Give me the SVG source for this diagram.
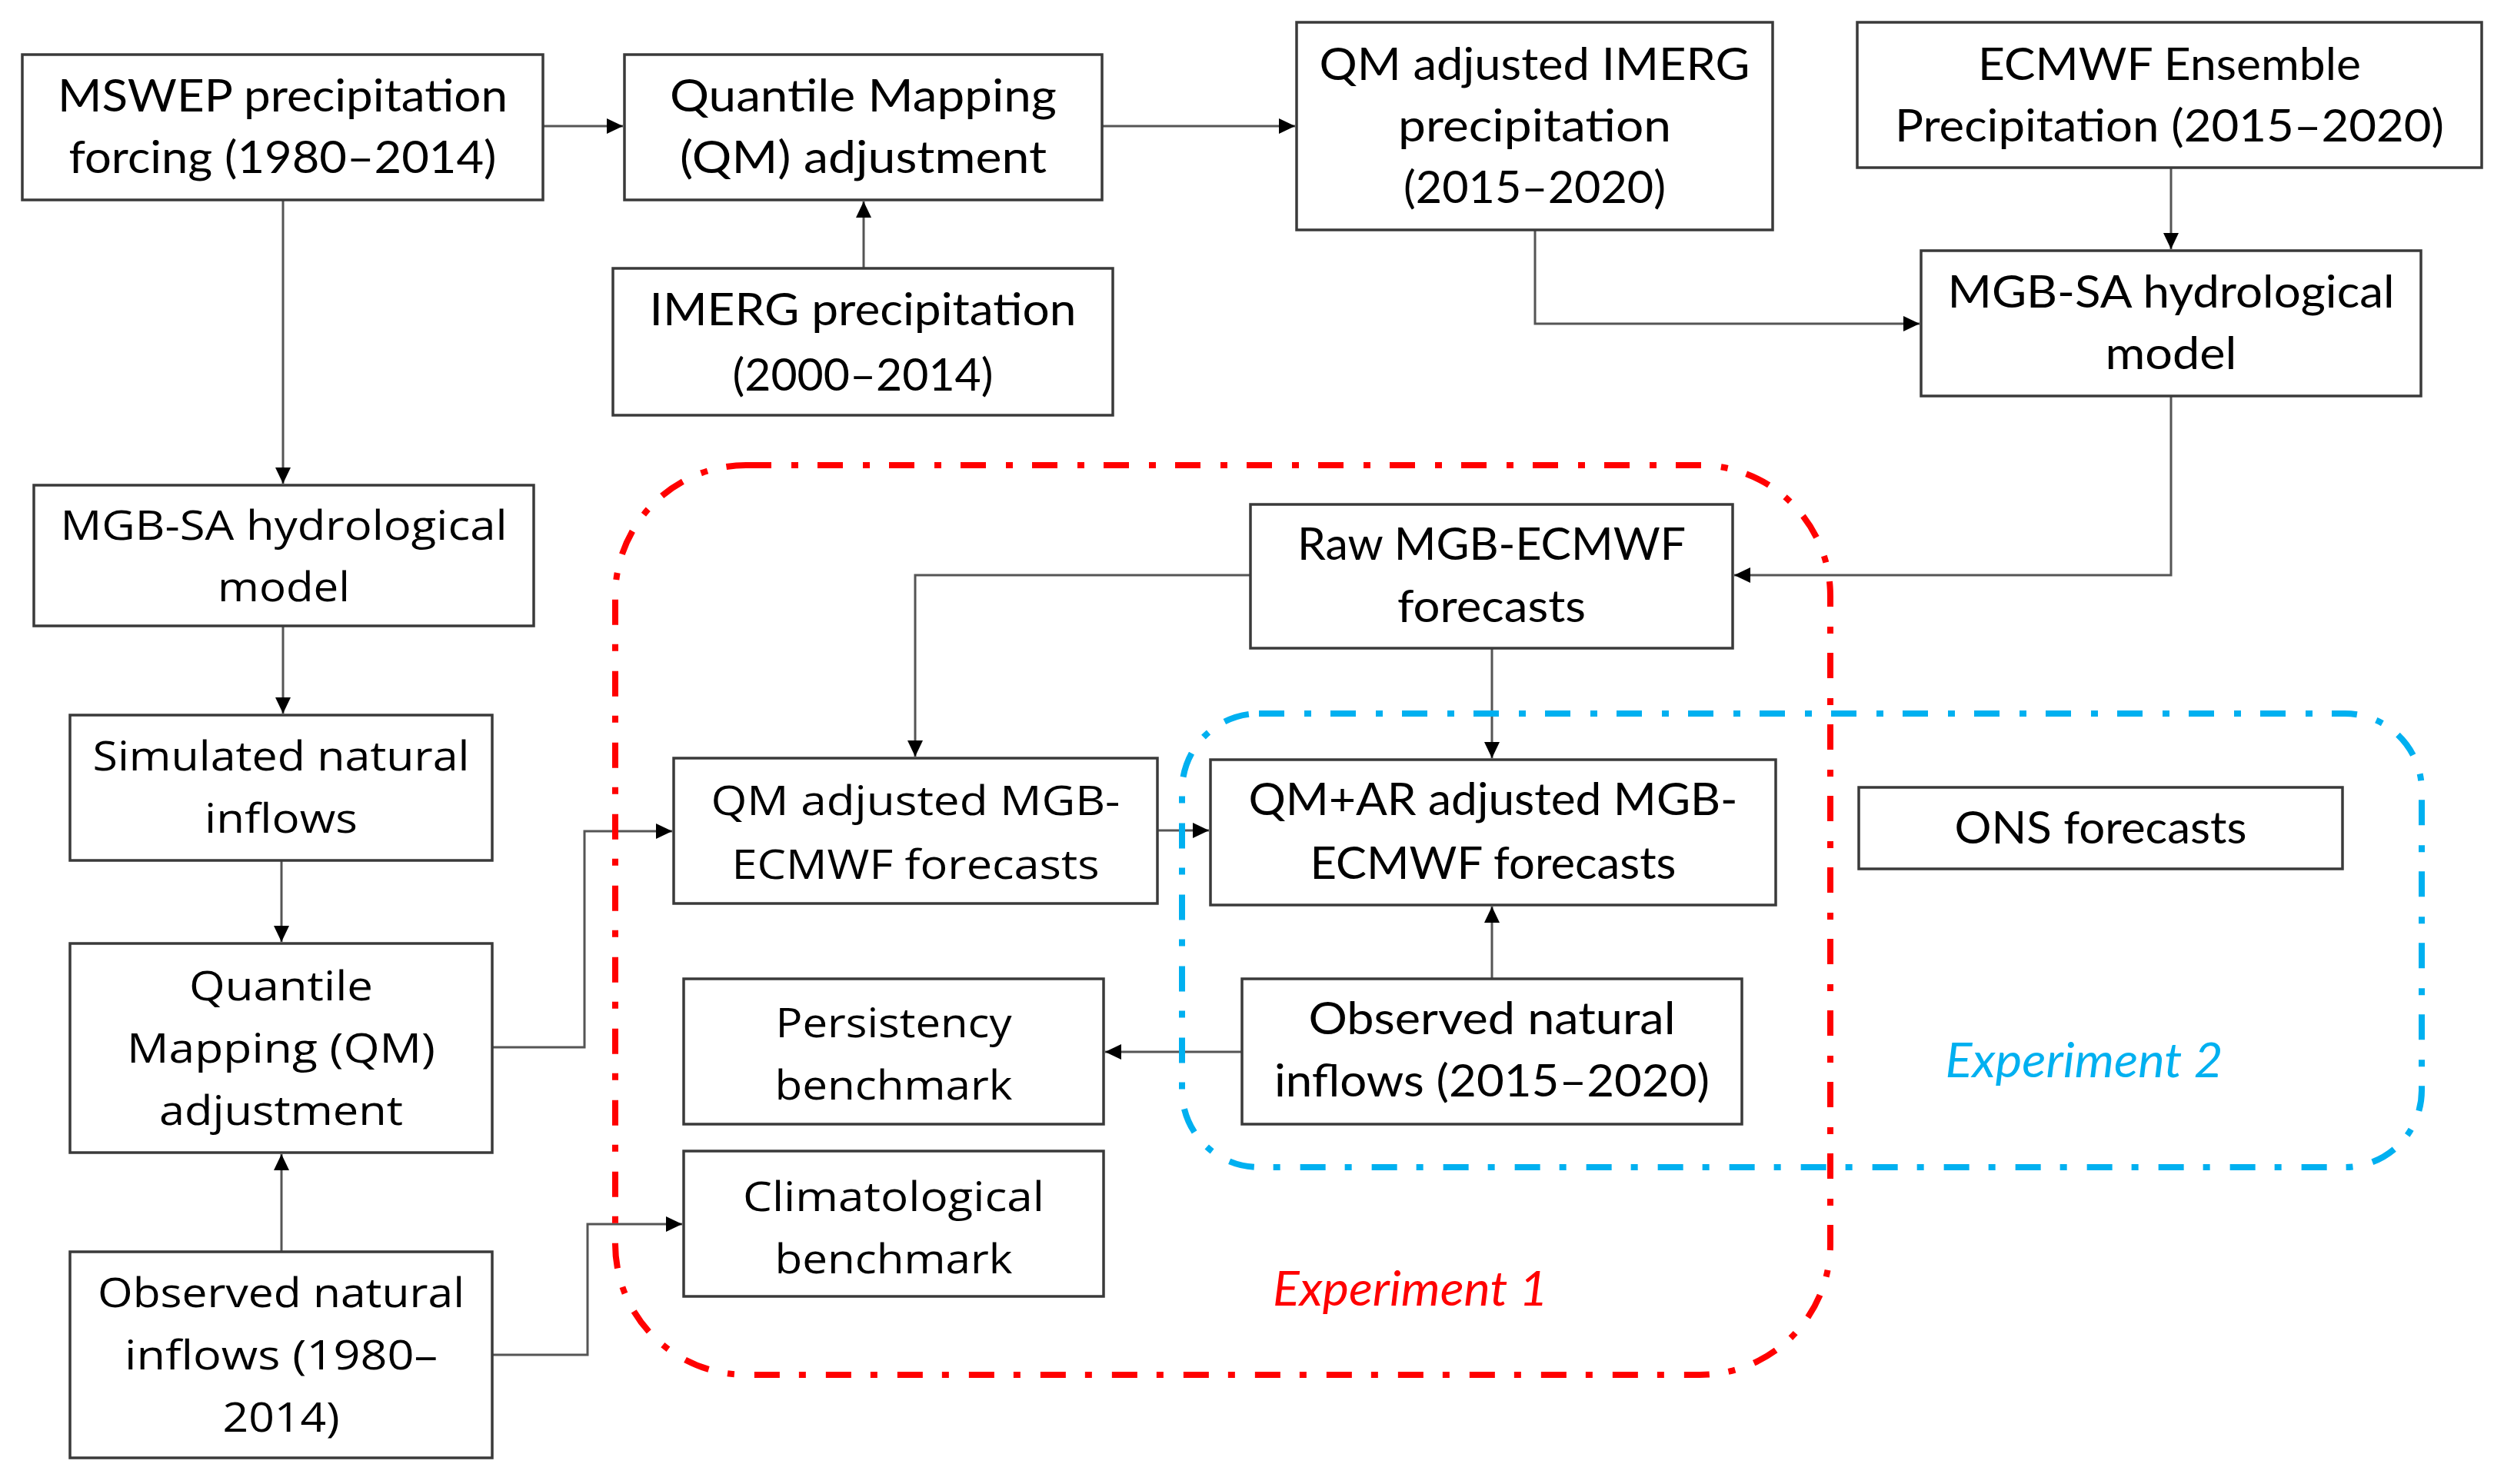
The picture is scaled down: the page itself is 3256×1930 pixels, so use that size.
<svg xmlns="http://www.w3.org/2000/svg" width="3256" height="1930" viewBox="0 0 3256 1930">
<defs>
<style>
.box{fill:#fff;stroke:#3a3a3a;stroke-width:3.5}
.n{font-family:Lato,"Liberation Sans",sans-serif;font-size:58px;fill:#000;text-anchor:middle}
.w{font-family:"Open Sans","Liberation Sans",sans-serif;font-size:53px;fill:#000;text-anchor:middle}
.con{fill:none;stroke:#555;stroke-width:3;marker-end:url(#ah)}
.exp1{fill:none;stroke:#ff0000;stroke-width:8;stroke-dasharray:33 26 9 25}
.exp2{fill:none;stroke:#00b0f0;stroke-width:8;stroke-dasharray:33 26 9 25}
.lab{font-family:Lato,"Liberation Sans",sans-serif;font-size:62px;font-style:italic;text-anchor:middle}
</style>
<marker id="ah" markerUnits="userSpaceOnUse" markerWidth="22" markerHeight="22" viewBox="0 0 22 22" refX="21" refY="11" orient="auto">
<path d="M0,1 L21,11 L0,21 Z" fill="#000"/>
</marker>
</defs>
<rect width="3256" height="1930" fill="#fff"/>

<g id="connectors">
<path class="con" d="M706,164 H810"/>
<path class="con" d="M1433,164 H1684"/>
<path class="con" d="M1123,349 V262"/>
<path class="con" d="M368,260 V629"/>
<path class="con" d="M1996,299 V421 H2496"/>
<path class="con" d="M2823,218 V324"/>
<path class="con" d="M2823,515 V748 H2255"/>
<path class="con" d="M1626,748 H1190 V984"/>
<path class="con" d="M1940,843 V986"/>
<path class="con" d="M1505,1080 H1572"/>
<path class="con" d="M368,814 V928"/>
<path class="con" d="M366,1119 V1225"/>
<path class="con" d="M640,1362 H760 V1081 H874"/>
<path class="con" d="M366,1628 V1501"/>
<path class="con" d="M640,1762 H764 V1592 H887"/>
<path class="con" d="M1940,1273 V1179"/>
<path class="con" d="M1615,1368 H1437"/>
</g>

<g id="mswep">
<rect class="box" x="29" y="71" width="677" height="189"/>
<text class="n" x="367.5" y="145" textLength="585" lengthAdjust="spacingAndGlyphs">MSWEP precipitation</text>
<text class="n" x="367.5" y="225" textLength="556" lengthAdjust="spacingAndGlyphs">forcing (1980–2014)</text>
</g>
<g id="qm-top">
<rect class="box" x="812" y="71" width="621" height="189"/>
<text class="n" x="1122.5" y="145" textLength="503" lengthAdjust="spacingAndGlyphs">Quantile Mapping</text>
<text class="n" x="1122.5" y="225" textLength="477" lengthAdjust="spacingAndGlyphs">(QM) adjustment</text>
</g>
<g id="qm-imerg">
<rect class="box" x="1686" y="29" width="619" height="270"/>
<text class="n" x="1995.5" y="104" textLength="560" lengthAdjust="spacingAndGlyphs">QM adjusted IMERG</text>
<text class="n" x="1995.5" y="184" textLength="355" lengthAdjust="spacingAndGlyphs">precipitation</text>
<text class="n" x="1995.5" y="264" textLength="341" lengthAdjust="spacingAndGlyphs">(2015–2020)</text>
</g>
<g id="ecmwf">
<rect class="box" x="2415" y="29" width="812" height="189"/>
<text class="n" x="2821" y="104" textLength="498" lengthAdjust="spacingAndGlyphs">ECMWF Ensemble</text>
<text class="n" x="2821" y="184" textLength="714" lengthAdjust="spacingAndGlyphs">Precipitation (2015–2020)</text>
</g>
<g id="imerg">
<rect class="box" x="797" y="349" width="650" height="191"/>
<text class="n" x="1122" y="423" textLength="555" lengthAdjust="spacingAndGlyphs">IMERG precipitation</text>
<text class="n" x="1122" y="508" textLength="339" lengthAdjust="spacingAndGlyphs">(2000–2014)</text>
</g>
<g id="mgb-right">
<rect class="box" x="2498" y="326" width="650" height="189"/>
<text class="n" x="2823" y="400" textLength="581" lengthAdjust="spacingAndGlyphs">MGB-SA hydrological</text>
<text class="n" x="2823" y="480" textLength="171" lengthAdjust="spacingAndGlyphs">model</text>
</g>
<g id="mgb-left">
<rect class="box" x="44" y="631" width="650" height="183"/>
<text class="w" x="369" y="702" textLength="581" lengthAdjust="spacingAndGlyphs">MGB-SA hydrological</text>
<text class="w" x="369" y="782" textLength="172" lengthAdjust="spacingAndGlyphs">model</text>
</g>
<g id="raw">
<rect class="box" x="1626" y="656" width="627" height="187"/>
<text class="n" x="1939.5" y="728" textLength="505" lengthAdjust="spacingAndGlyphs">Raw MGB-ECMWF</text>
<text class="n" x="1939.5" y="809" textLength="245" lengthAdjust="spacingAndGlyphs">forecasts</text>
</g>
<g id="simulated">
<rect class="box" x="91" y="930" width="549" height="189"/>
<text class="w" x="365.5" y="1002" textLength="490" lengthAdjust="spacingAndGlyphs">Simulated natural</text>
<text class="w" x="365.5" y="1083" textLength="199" lengthAdjust="spacingAndGlyphs">inflows</text>
</g>
<g id="qm-mgb">
<rect class="box" x="876" y="986" width="629" height="189"/>
<text class="w" x="1190.5" y="1060" textLength="532" lengthAdjust="spacingAndGlyphs">QM adjusted MGB-</text>
<text class="w" x="1190.5" y="1143" textLength="478" lengthAdjust="spacingAndGlyphs">ECMWF forecasts</text>
</g>
<g id="qmar">
<rect class="box" x="1574" y="988" width="735" height="189"/>
<text class="n" x="1941.5" y="1060" textLength="636" lengthAdjust="spacingAndGlyphs">QM+AR adjusted MGB-</text>
<text class="n" x="1941.5" y="1143" textLength="476" lengthAdjust="spacingAndGlyphs">ECMWF forecasts</text>
</g>
<g id="ons">
<rect class="box" x="2417" y="1024" width="629" height="106"/>
<text class="n" x="2731.5" y="1097" textLength="380" lengthAdjust="spacingAndGlyphs">ONS forecasts</text>
</g>
<g id="qm-left">
<rect class="box" x="91" y="1227" width="549" height="272"/>
<text class="w" x="365.5" y="1301" textLength="239" lengthAdjust="spacingAndGlyphs">Quantile</text>
<text class="w" x="365.5" y="1382" textLength="401" lengthAdjust="spacingAndGlyphs">Mapping (QM)</text>
<text class="w" x="365.5" y="1463" textLength="317" lengthAdjust="spacingAndGlyphs">adjustment</text>
</g>
<g id="persistency">
<rect class="box" x="889" y="1273" width="546" height="189"/>
<text class="w" x="1162" y="1349" textLength="307" lengthAdjust="spacingAndGlyphs">Persistency</text>
<text class="w" x="1162" y="1430" textLength="309" lengthAdjust="spacingAndGlyphs">benchmark</text>
</g>
<g id="obs-2015">
<rect class="box" x="1615" y="1273" width="650" height="189"/>
<text class="n" x="1940" y="1345" textLength="477" lengthAdjust="spacingAndGlyphs">Observed natural</text>
<text class="n" x="1940" y="1426" textLength="566" lengthAdjust="spacingAndGlyphs">inflows (2015–2020)</text>
</g>
<g id="climatological">
<rect class="box" x="889" y="1497" width="546" height="189"/>
<text class="w" x="1162" y="1575" textLength="392" lengthAdjust="spacingAndGlyphs">Climatological</text>
<text class="w" x="1162" y="1656" textLength="309" lengthAdjust="spacingAndGlyphs">benchmark</text>
</g>
<g id="obs-1980">
<rect class="box" x="91" y="1628" width="549" height="268"/>
<text class="w" x="365.5" y="1700" textLength="477" lengthAdjust="spacingAndGlyphs">Observed natural</text>
<text class="w" x="365.5" y="1781" textLength="407" lengthAdjust="spacingAndGlyphs">inflows (1980–</text>
<text class="w" x="365.5" y="1862" textLength="152" lengthAdjust="spacingAndGlyphs">2014)</text>
</g>

<g id="experiment-2">
<rect class="exp2" x="1537" y="928" width="1612" height="590" rx="100" ry="100"/>
<text class="lab" x="2710" y="1401" fill="#00b0f0" textLength="361" lengthAdjust="spacingAndGlyphs">Experiment 2</text>
</g>
<g id="experiment-1">
<rect class="exp1" x="800" y="605" width="1580" height="1183" rx="170" ry="170"/>
<text class="lab" x="1834" y="1698" fill="#ff0000" textLength="358" lengthAdjust="spacingAndGlyphs">Experiment 1</text>
</g>
</svg>
